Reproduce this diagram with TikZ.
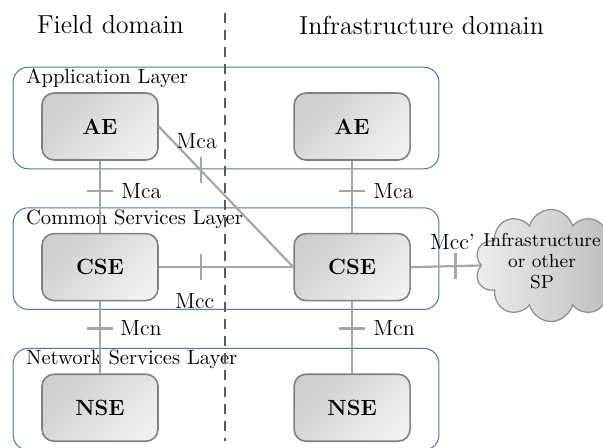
\documentclass[tikz,border=0pt]{standalone}
\usepackage{tikz}
\usetikzlibrary{positioning,fit,backgrounds,calc,shapes.symbols}

\definecolor{layerblue}{RGB}{84,117,163}
\definecolor{linkgray}{RGB}{166,166,166}
\definecolor{sepgray}{RGB}{90,90,90}
\definecolor{boxedge}{RGB}{128,128,128}

\begin{document}
\begin{tikzpicture}[
  x=0.5pt, y=-0.5pt,
  node distance=36pt and 67.25pt,
  ent/.style={draw=boxedge, line width=0.8pt, rounded corners=6pt,
              top color=black!19, bottom color=black!6, shading angle=45,
              minimum width=58pt, minimum height=33.5pt, inner sep=0pt,
              font=\fontsize{11}{13}\selectfont\bfseries},
  layer/.style={draw=layerblue, line width=0.5pt, rounded corners=7.5pt,
                inner xsep=14pt, inner ysep=4pt},
  layerlbl/.style={anchor=west, inner sep=0pt, font=\fontsize{10.3}{12}\selectfont},
  ttl/.style={inner sep=0pt, font=\fontsize{13}{15}\selectfont},
  ref/.style={inner sep=0pt, font=\fontsize{11}{13}\selectfont},
  link/.style={draw=linkgray, line width=1.1pt},
  sep/.style={draw=sepgray, line width=1.2pt, dash pattern=on 5pt off 3.5pt},
  spcloud/.style={cloud, cloud puffs=10, draw=black!45, line width=0.6pt,
                  left color=black!7, right color=black!27,
                  minimum width=76pt, minimum height=56pt, inner sep=0pt},
  cloudtxt/.style={align=center, inner sep=0pt, font=\fontsize{9.4}{10.5}\selectfont},
]
\useasboundingbox (0,0) rectangle (603,447);

% titles and domain separator
\node[ttl] (fieldT) at (110.5,25) {Field domain};
\node[ttl] (infraT) at (421.5,25) {Infrastructure domain};
\coordinate (sepTop) at (225,13);
\coordinate (sepBot) at (225,441);

% entities
\node[ent] (aeF) at (100,126.5) {AE};
\node[ent, right=of aeF] (aeI) {AE};
\node[ent, below=of aeF] (cseF) {CSE};
\node[ent, right=of cseF] (cseI) {CSE};
\node[ent, below=of cseF] (nseF) {NSE};
\node[ent, right=of nseF] (nseI) {NSE};
\node[spcloud, label={[cloudtxt, xshift=-4.5pt, yshift=2pt]center:{Infrastructure\\or other\\SP}}]
  (sp) at (551,265.5) {};

% layers
\begin{scope}[on background layer]
\node[layer, fit={(aeF)(aeI)([yshift=8.5pt]aeF.north)}] (appL) {};
\node[layer, fit={(cseF)(cseI)([yshift=8.5pt]cseF.north)}] (cslL) {};
\node[layer, fit={(nseF)(nseI)([yshift=8.5pt]nseF.north)}] (nslL) {};
\end{scope}
\node[layerlbl] (lApp) at ($(appL.north west)+(13,12)$) {Application Layer};
\node[layerlbl] (lCsl) at ($(cslL.north west)+(13,12)$) {Common Services Layer};
\node[layerlbl] (lNsl) at ($(nslL.north west)+(13,11)$) {Network Services Layer};

\draw[sep] (sepTop) -- (sepBot);

% reference points
\draw[link] (aeF.south) -- coordinate[pos=0.417] (mcaF) (cseF.north);
\draw[link] (aeI.south) -- coordinate[pos=0.417] (mcaI) (cseI.north);
\draw[link] (cseF.south) -- coordinate[pos=0.375] (mcnF) (nseF.north);
\draw[link] (cseI.south) -- coordinate[pos=0.375] (mcnI) (nseI.north);
\draw[link] (cseF.east) -- coordinate[pos=0.312] (mcc) (cseI.west);
\draw[link] (aeF.east) -- coordinate[pos=0.312] (mcaX) (cseI.west);
\draw[link] (cseI.east) -- coordinate[pos=0.64] (mccX) (sp.west);

\foreach \p in {mcaF,mcaI,mcnF,mcnI}
  \draw[link] (\p) ++(-13,0) -- ++(26,0);
\foreach \p in {mcc,mcaX,mccX}
  \draw[link] (\p) ++(0,-13) -- ++(0,26);

\node[ref, anchor=west] (lMcaF) at ($(mcaF)+(21,0)$) {Mca};
\node[ref, anchor=west] (lMcaI) at ($(mcaI)+(21,0)$) {Mca};
\node[ref, anchor=west] (lMcnF) at ($(mcnF)+(20,0)$) {Mcn};
\node[ref, anchor=west] (lMcnI) at ($(mcnI)+(21,0)$) {Mcn};
\node[ref] (lMcaX) at ($(mcaX)+(-4,-29.5)$) {Mca};
\node[ref] (lMcc) at ($(mcc)+(-6,33.5)$) {Mcc};
\node[ref] (lMccX) at ($(mccX)+(-3,-24.5)$) {Mcc'};
\end{tikzpicture}
\end{document}
